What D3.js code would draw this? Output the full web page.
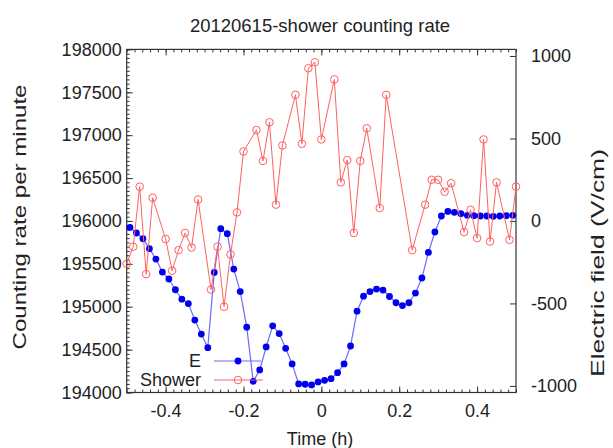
<!DOCTYPE html>
<html lang="en">
<head>
  <meta charset="UTF-8">
  <script src="https://cdn.jsdelivr.net/npm/d3@7/dist/d3.min.js"></script>
  <title>20120615-shower counting rate</title>
  <style>
    body { margin: 0; background: #fff; }
    text { font-family: "Liberation Sans", Arial, sans-serif; fill: #222; }
  </style>
</head>
<body>
  <script>
    const margin = ({top: 49.4, right: 97, bottom: 55.5, left: 126.7})
    const width = 613, height = 448

    // shower counting rate, one point per minute (some minutes missing)
    const showerMin = [-30, -29, -28, -27, -26, -24, -23, -22, -21, -20, -19, -17, -16, -15, -14, -13, -12,
      -10, -9, -8, -7, -6, -4, -3, -2, -1, 0, 2, 3, 4, 5, 6, 7, 9, 10, 14, 16, 17, 18, 19, 20,
      22, 23, 24, 25, 26, 27, 29, 30]
    const showerRate = [195500, 195700, 196400, 195380, 196270, 195790, 195420, 195660, 195860, 195690, 196250,
      195200, 195700, 195000, 195610, 196100, 196810, 197060, 196700, 197150, 196190, 196880,
      197470, 196900, 197780, 197850, 196950, 197650, 196450, 196710, 195860, 196700, 197080,
      196150, 197470, 195660, 196190, 196480, 196480, 196340, 196440, 195870, 196130, 195800,
      196950, 195760, 196450, 195780, 196400]

    // electric field, minute mid-points
    const fieldMin = [-29.5, -28.5, -27.5, -26.5, -25.5, -24.5, -23.5, -22.5, -21.5, -20.5, -19.5, -18.5,
      -17.5, -16.5, -15.5, -14.5, -13.5, -12.5, -11.5, -10.5, -9.5, -8.5, -7.5, -6.5, -5.5, -4.5,
      -3.5, -2.5, -1.5, -0.5, 0.5, 1.5, 2.5, 3.5, 4.5, 5.5, 6.5, 7.5, 8.5, 9.5, 10.5, 11.5, 12.5,
      13.5, 14.5, 15.5, 16.5, 17.5, 18.5, 19.5, 20.5, 21.5, 22.5, 23.5, 24.5, 25.5, 26.5, 27.5,
      28.5, 29.5]
    const fieldE = [-39, -73, -108, -168, -231, -310, -352, -417, -474, -501, -601, -686,
      -768, -312, -47, -77, -292, -428, -644, -972, -903, -764, -636, -683,
      -772, -867, -988, -990, -994, -976, -966, -956, -920, -867, -758, -547,
      -456, -428, -413, -419, -458, -496, -513, -496, -437, -346, -191, -67,
      30, 58, 52, 44, 34, 32, 30, 30, 28, 30, 32, 34]

    const xTicks = [-0.4, -0.2, 0, 0.2, 0.4]
    const yTicks = [194000, 194500, 195000, 195500, 196000, 196500, 197000, 197500, 198000]
    const y2Ticks = [-1000, -500, 0, 500, 1000]

    const shower = showerMin.map((m, i) => ({t: m / 60, v: showerRate[i]}))
    const field = fieldMin.map((m, i) => ({t: m / 60, v: fieldE[i]}))

    const x = d3.scaleLinear().domain([-0.5, 0.5]).range([margin.left, width - margin.right])
    const y = d3.scaleLinear().domain([194000, 198000]).range([height - margin.bottom, margin.top])
    const y2 = d3.scaleLinear().domain([-1040, 1040]).range([height - margin.bottom, margin.top])

    const svg = d3.select('body').append('svg')
        .attr('width', width)
        .attr('height', height)

    const bottom = height - margin.bottom, right = width - margin.right

    // minor ticks
    svg.append('g')
        .attr('transform', `translate(0,${bottom})`)
        .call(d3.axisBottom(x).tickValues(d3.range(-25, 26).map(d => d / 50)).tickSize(-3).tickFormat(''))
    svg.append('g')
        .attr('transform', `translate(0,${margin.top})`)
        .call(d3.axisTop(x).tickValues(d3.range(-25, 26).map(d => d / 50)).tickSize(-3).tickFormat(''))
    svg.append('g')
        .attr('transform', `translate(${margin.left},0)`)
        .call(d3.axisLeft(y).tickValues(d3.range(194000, 198001, 50)).tickSize(-3).tickFormat(''))

    // major ticks + labels
    svg.append('g')
        .attr('class', 'ax')
        .attr('transform', `translate(0,${bottom})`)
        .call(d3.axisBottom(x).tickValues(xTicks).tickSize(-6).tickPadding(12).tickFormat(d => String(d)))
    svg.append('g')
        .attr('transform', `translate(0,${margin.top})`)
        .call(d3.axisTop(x).tickValues(xTicks).tickSize(-6).tickFormat(''))
    svg.append('g')
        .attr('class', 'ax')
        .attr('transform', `translate(${margin.left},0)`)
        .call(d3.axisLeft(y).tickValues(yTicks).tickSize(-6).tickPadding(5).tickFormat(d => String(d)))
    svg.append('g')
        .attr('class', 'ax')
        .attr('transform', `translate(${right},0)`)
        .call(d3.axisRight(y2).tickValues(y2Ticks).tickSize(-6).tickPadding(15).tickFormat(d => String(d)))

    svg.selectAll('.domain').remove()
    svg.selectAll('.tick line').attr('stroke', '#333')
    svg.selectAll('.ax text').style('font-size', '18px').attr('fill', '#222')

    // frame
    svg.append('rect')
        .attr('x', margin.left).attr('y', margin.top)
        .attr('width', right - margin.left).attr('height', bottom - margin.top)
        .attr('fill', 'none').attr('stroke', '#333').attr('stroke-width', 1.2)

    // E field
    const lineE = d3.line().x(d => x(d.t)).y(d => y2(d.v))
    svg.append('path')
        .datum(field)
        .attr('fill', 'none')
        .attr('stroke', '#6b6bff')
        .attr('stroke-width', 1.2)
        .attr('d', lineE)
    svg.append('g').selectAll('circle')
      .data(field)
      .enter().append('circle')
        .attr('cx', d => x(d.t))
        .attr('cy', d => y2(d.v))
        .attr('r', 3.4)
        .attr('fill', '#0000ee')

    // shower
    const lineS = d3.line().x(d => x(d.t)).y(d => y(d.v))
    svg.append('path')
        .datum(shower)
        .attr('fill', 'none')
        .attr('stroke', '#ff6060')
        .attr('stroke-width', 1)
        .attr('d', lineS)
    svg.append('g').selectAll('circle')
      .data(shower)
      .enter().append('circle')
        .attr('cx', d => x(d.t))
        .attr('cy', d => y(d.v))
        .attr('r', 3.8)
        .attr('fill', 'none')
        .attr('stroke', '#ff6060')
        .attr('stroke-width', 1)

    // key
    const key = svg.append('g')
    key.append('text').attr('x', 201).attr('y', 367).attr('text-anchor', 'end')
        .style('font-size', '18px').text('E')
    key.append('line').attr('x1', 214).attr('x2', 261).attr('y1', 361).attr('y2', 361)
        .attr('stroke', '#6b6bff').attr('stroke-width', 1.2)
    key.append('circle').attr('cx', 238).attr('cy', 361).attr('r', 3.4).attr('fill', '#0000ee')
    key.append('text').attr('x', 201).attr('y', 386).attr('text-anchor', 'end')
        .style('font-size', '18px').text('Shower')
    key.append('line').attr('x1', 214).attr('x2', 263).attr('y1', 380).attr('y2', 380)
        .attr('stroke', '#ff6060').attr('stroke-width', 1)
    key.append('circle').attr('cx', 238).attr('cy', 380).attr('r', 3.8)
        .attr('fill', 'none').attr('stroke', '#ff6060')

    // titles
    svg.append('text').attr('x', 320).attr('y', 32).attr('text-anchor', 'middle')
        .style('font-size', '18.5px').text('20120615-shower counting rate')
    svg.append('text').attr('x', 320).attr('y', 445).attr('text-anchor', 'middle')
        .style('font-size', '18px').text('Time (h)')
    svg.append('text')
        .attr('transform', 'translate(26,217) rotate(-90)')
        .attr('text-anchor', 'middle')
        .attr('textLength', 265).attr('lengthAdjust', 'spacingAndGlyphs')
        .style('font-size', '19px').text('Counting rate per minute')
    svg.append('text')
        .attr('transform', 'translate(604,263) rotate(-90)')
        .attr('text-anchor', 'middle')
        .attr('textLength', 228).attr('lengthAdjust', 'spacingAndGlyphs')
        .style('font-size', '19px').text('Electric field (V/cm)')
  </script>
</body>
</html>
